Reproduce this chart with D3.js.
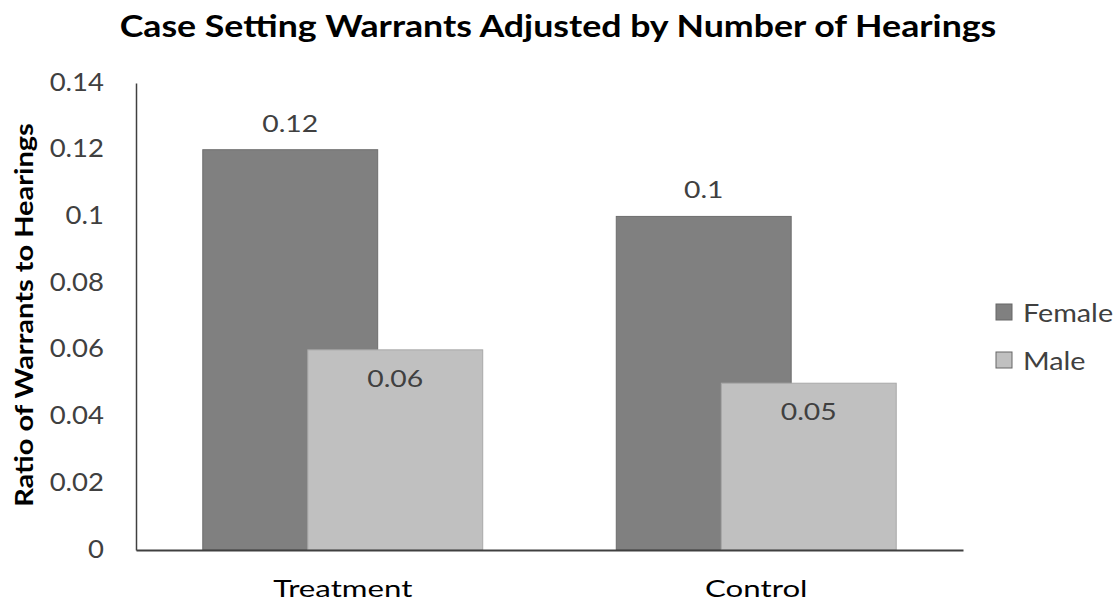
<!DOCTYPE html>
<html>
<head>
<meta charset="utf-8">
<script src="https://cdn.jsdelivr.net/npm/d3@7"></script>
<style>
  html, body { margin: 0; padding: 0; background: #fff; }
  svg { display: block; font-family: Lato, "Open Sans", sans-serif; }
</style>
</head>
<body>
<svg id="chart" width="1120" height="603"></svg>
<script>
// Chart data
const categories = ["Treatment", "Control"];
const seriesNames = ["Female", "Male"];
const femaleValues = [0.12, 0.1];
const maleValues = [0.06, 0.05];
const yTicks = [0, 0.02, 0.04, 0.06, 0.08, 0.1, 0.12, 0.14];
const seriesColors = ["#808080", "#c0c0c0"];

const svg = d3.select("#chart");
const plot = { left: 136, right: 963, top: 83, bottom: 550 };
const textColor = "#404040";

// Widen text glyphs horizontally by factor k (keeps anchor position)
function widen(sel, k) {
  sel.each(function () {
    const len = this.getComputedTextLength();
    d3.select(this)
      .attr("textLength", len * k)
      .attr("lengthAdjust", "spacingAndGlyphs");
  });
  return sel;
}

const x = d3.scaleBand().domain(categories).range([plot.left, plot.right]).padding(0);
const y = d3.scaleLinear().domain([0, 0.14]).range([plot.bottom, plot.top]);

// Title
widen(svg.append("text")
  .attr("x", 558).attr("y", 37)
  .attr("text-anchor", "middle")
  .attr("font-weight", "bold")
  .attr("font-size", 30)
  .attr("fill", "#000")
  .text("Case Setting Warrants Adjusted by Number of Hearings"), 1.19);

// Y axis title
widen(svg.append("text")
  .attr("transform", `translate(33,315) rotate(-90)`)
  .attr("text-anchor", "middle")
  .attr("font-weight", "bold")
  .attr("font-size", 25)
  .attr("fill", "#000")
  .text("Ratio of Warrants to Hearings"), 1.16);

// Y axis
const yAxis = svg.append("g")
  .attr("transform", `translate(${plot.left},0)`)
  .call(d3.axisLeft(y).tickValues(yTicks).tickSize(0).tickPadding(32)
    .tickFormat(d => String(+d.toFixed(2))));
yAxis.select(".domain").attr("stroke", "#404040").attr("stroke-width", 1.5);
yAxis.selectAll(".tick text")
  .attr("font-size", 25)
  .attr("font-family", "Lato, sans-serif")
  .attr("fill", textColor)
  .attr("y", -1);
widen(yAxis.selectAll(".tick text"), 1.1);

// Bars: the two series overlap within each category
const bw = x.bandwidth();
const barW = bw * 0.423;
const shift = bw * 0.254;
const groupW = barW + shift;

const rows = categories.map((c, i) => ({ cat: c, vals: [femaleValues[i], maleValues[i]] }));

rows.forEach(r => {
  const start = x(r.cat) + (bw - groupW) / 2;
  r.vals.forEach((v, s) => {
    const bx = start + s * shift;
    svg.append("rect")
      .attr("x", bx).attr("y", y(v))
      .attr("width", barW).attr("height", y(0) - y(v))
      .attr("fill", seriesColors[s])
      .attr("stroke", s === 0 ? "#6e6e6e" : "#a8a8a8")
      .attr("stroke-width", 1);
    // Value label: above the first series, inside the top of the second
    widen(svg.append("text")
      .attr("x", bx + barW / 2)
      .attr("y", s === 0 ? y(v) - 18 : y(v) + 37)
      .attr("text-anchor", "middle")
      .attr("font-size", 24)
      .attr("fill", textColor)
      .text(String(v)), 1.18);
  });
});

// X axis
const xAxis = svg.append("g")
  .attr("transform", `translate(0,${plot.bottom})`)
  .call(d3.axisBottom(x).tickSize(0).tickPadding(30));
xAxis.select(".domain").attr("stroke", "#404040").attr("stroke-width", 2);
xAxis.selectAll(".tick text")
  .attr("font-size", 24)
  .attr("font-family", "Lato, sans-serif")
  .attr("fill", "#000");
widen(xAxis.selectAll(".tick text"), 1.3);

// Legend
const legend = svg.append("g").attr("transform", "translate(996,304)");
seriesNames.forEach((name, i) => {
  const g = legend.append("g").attr("transform", `translate(0,${i * 48})`);
  g.append("rect")
    .attr("x", 0).attr("y", 0).attr("width", 16).attr("height", 16)
    .attr("fill", seriesColors[i]).attr("stroke", "#666").attr("stroke-width", 1);
  widen(g.append("text")
    .attr("x", 27).attr("y", 18)
    .attr("font-size", 25)
    .attr("fill", textColor)
    .text(name), 1.15);
});
</script>
</body>
</html>
